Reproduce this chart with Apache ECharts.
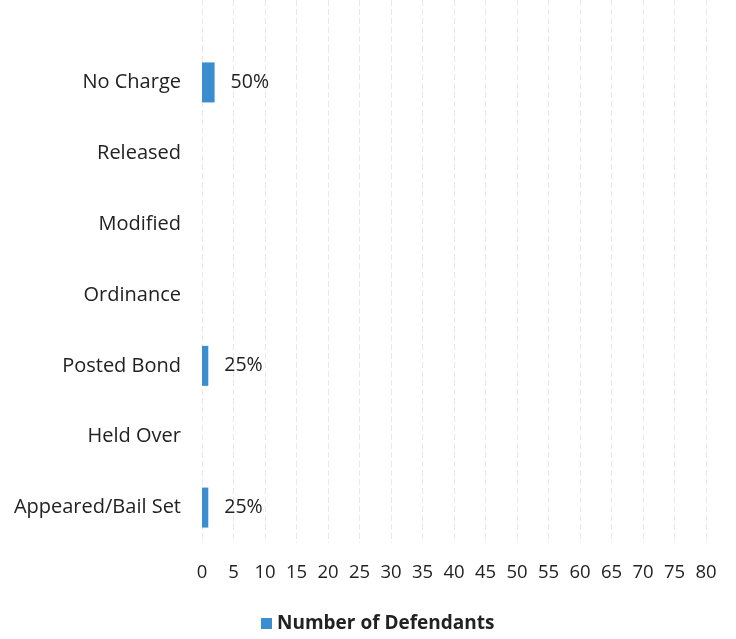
<!DOCTYPE html>
<html><head><meta charset="utf-8">
<script src="https://cdn.jsdelivr.net/npm/echarts@6/dist/echarts.min.js"></script>
<style>html,body{margin:0;padding:0;background:#fff}#c{width:736px;height:639px}</style>
</head><body><div id="c"></div>
<script>
const categories = ['Appeared/Bail Set','Held Over','Posted Bond','Ordinance','Modified','Released','No Charge'];
const defendants = [1, null, 1, null, null, null, 2];
const percentLabels = ['25%','','25%','','','','50%'];
const xTicks = {min:0, max:80, interval:5};
const seriesName = 'Number of Defendants';

const FONT = '"Open Sans", sans-serif';
const grid = {color:'#e8e8e8', type:[6,3]};
const chart = echarts.init(document.getElementById('c'), null, {renderer:'canvas'});
chart.setOption({
  animation:false,
  textStyle:{fontFamily:FONT},
  grid:[
    {left:202, right:30, top:47, bottom:96},
    {left:202, right:30, top:0, height:47}
  ],
  xAxis:[
    {gridIndex:0, type:'value', min:xTicks.min, max:xTicks.max, interval:xTicks.interval,
     axisLine:{show:false}, axisTick:{show:false},
     axisLabel:{color:'#222', fontSize:18.5, margin:20, fontFamily:FONT},
     splitLine:{lineStyle:grid}},
    {gridIndex:1, type:'value', min:xTicks.min, max:xTicks.max, interval:xTicks.interval,
     axisLine:{show:false}, axisTick:{show:false}, axisLabel:{show:false},
     splitLine:{lineStyle:grid}}
  ],
  yAxis:[
    {gridIndex:0, type:'category', data:categories,
     axisLine:{show:false}, axisTick:{show:false},
     axisLabel:{color:'#222', fontSize:20, margin:21, fontFamily:FONT}},
    {gridIndex:1, type:'category', data:[''], show:false}
  ],
  legend:{bottom:1, left:256, itemWidth:11, itemHeight:11, icon:'rect', itemGap:5,
    textStyle:{fontSize:19, fontWeight:'bold', color:'#222', fontFamily:FONT},
    data:[seriesName]},
  series:[{
    name:seriesName, type:'bar', xAxisIndex:0, yAxisIndex:0,
    data:defendants, barWidth:40,
    itemStyle:{color:'#3a8ed0'},
    label:{show:true, position:'right', distance:16, color:'#222', fontSize:19.5, fontFamily:FONT,
      formatter:p=>percentLabels[p.dataIndex]}
  }]
});
</script></body></html>
